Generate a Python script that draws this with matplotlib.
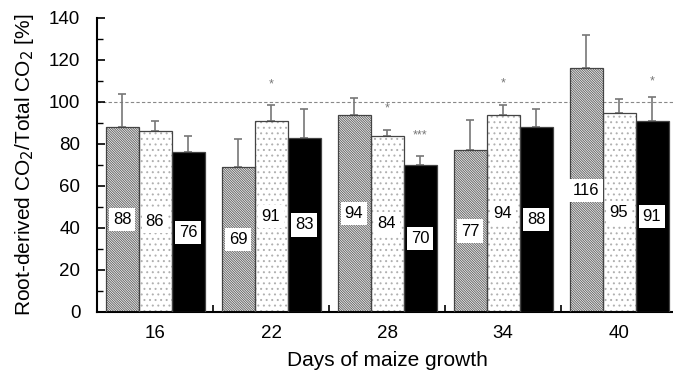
import matplotlib.pyplot as plt
import numpy as np

plt.rcParams['font.family'] = ['Liberation Sans', 'DejaVu Sans']
plt.rcParams['hatch.linewidth'] = 0.7

days = ['16', '22', '28', '34', '40']
hatched = [88, 69, 94, 77, 116]
dotted = [86, 91, 84, 94, 95]
black = [76, 83, 70, 88, 91]
err_hatched = [15.8, 13.2, 7.8, 14.3, 15.9]
err_dotted = [4.8, 7.4, 2.7, 4.4, 6.3]
err_black = [7.8, 13.5, 4.4, 8.5, 11.2]
stars_dotted = ['', '*', '*', '*', '']
stars_black = ['', '', '***', '', '*']
stars_y_dotted = [0, 108.6, 97, 108.9, 0]
stars_y_black = [0, 0, 84, 0, 110]

fig = plt.figure(figsize=(6.73, 3.75), dpi=100)
ax = fig.add_axes([97 / 673, 63 / 375, 580 / 673, 294 / 375])

x = np.arange(len(days))
w = 33 / 116
series = [
    (hatched, err_hatched, dict(color='white', hatch='\\' * 14, edgecolor='#666666')),
    (dotted, err_dotted, dict(color='white', hatch='...', edgecolor='#b0b0b0')),
    (black, err_black, dict(color='black', edgecolor='black')),
]
for k, (vals, errs, style) in enumerate(series):
    xs = x + (k - 1) * w
    ax.bar(xs, vals, w, linewidth=0, zorder=2, **style)
    ax.bar(xs, vals, w, fill=False, edgecolor='#444444', linewidth=0.9, zorder=3)
    ax.errorbar(xs, vals, yerr=[np.zeros(len(errs)), errs], fmt='none',
                ecolor='#777777', elinewidth=1.2, capsize=3, capthick=1.2, zorder=1)
    for xi, v in zip(xs, vals):
        ax.text(xi, v / 2, str(v), ha='center', va='center', fontsize=12, zorder=4,
                bbox=dict(facecolor='white', edgecolor='none', pad=3))

for xi, s, y in zip(x, stars_dotted, stars_y_dotted):
    if s:
        ax.text(xi, y, s, ha='center', va='center', fontsize=9, color='#777777')
for xi, s, y in zip(x + w, stars_black, stars_y_black):
    if s:
        ax.text(xi, y, s, ha='center', va='center', fontsize=9, color='#777777')

ax.axhline(100, color='#888888', linestyle=(0, (3, 2)), linewidth=0.8, zorder=0)

ax.set_xlim(-0.5, 4.5)
ax.set_ylim(0, 140)
ax.set_yticks(np.arange(0, 141, 20))
ax.set_yticks(np.arange(10, 140, 20), minor=True)
ax.set_xticks(x)
ax.set_xticklabels(days)
ax.set_xticks(x[:-1] + 0.5, minor=True)
ax.tick_params(axis='y', which='major', direction='in', length=6, width=1.2, labelsize=13.5, pad=12)
ax.tick_params(axis='y', which='minor', direction='in', length=4, width=1)
ax.tick_params(axis='x', which='major', length=0, labelsize=13.5, pad=9)
ax.tick_params(axis='x', which='minor', direction='in', length=5, width=1.2)
for side in ['top', 'right']:
    ax.spines[side].set_visible(False)
ax.spines['left'].set_linewidth(1.5)
ax.spines['bottom'].set_linewidth(1.5)

ax.set_ylabel('Root-derived CO$_2$/Total CO$_2$ [%]', fontsize=15, labelpad=9)
ax.set_xlabel('Days of maize growth', fontsize=15, labelpad=7)

fig.savefig('out.png', dpi=100)
